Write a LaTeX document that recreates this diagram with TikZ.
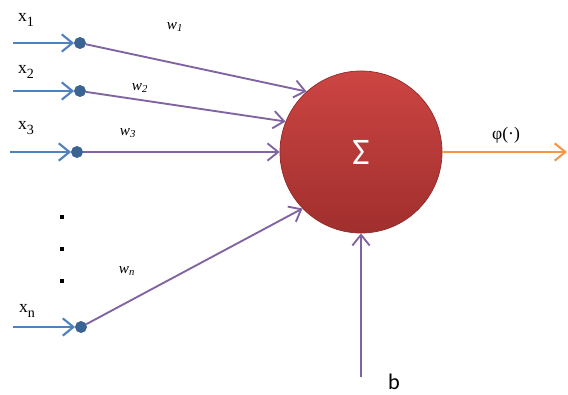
\documentclass[tikz,border=0pt]{standalone}
\usepackage{fontspec}
\setmainfont{Liberation Serif}
\setsansfont{Carlito}
\usepackage{tikz}
\usetikzlibrary{arrows.meta}
\definecolor{inblue}{HTML}{4F81BD}
\definecolor{dotblue}{HTML}{3A6496}
\definecolor{wpurple}{HTML}{8064A2}
\definecolor{outorange}{HTML}{F79646}
\definecolor{sumtop}{HTML}{CC4543}
\definecolor{sumbot}{HTML}{A02F2D}
\newcommand{\lowsub}[1]{\raisebox{-0.55ex}{\fontsize{12}{12}\selectfont #1}}

\begin{document}
\begin{tikzpicture}[x=0.03cm,y=-0.03cm,
  barb/.style={-{Straight Barb[length=0.32cm,width=0.52cm]}},
  inarrow/.style={barb,inblue,line width=1.8pt},
  weight/.style={barb,wpurple,line width=1.6pt},
  inpt/.style={circle,fill=dotblue,draw=inblue!70!black,inner sep=0pt,minimum size=0.34cm},
  xlab/.style={font=\fontsize{15}{16}\selectfont},
  wlab/.style={font=\fontsize{13}{14}\selectfont\itshape}]
\useasboundingbox (0,0) rectangle (568,394);
% summing node
\node[circle,minimum size=4.86cm,inner sep=0pt,top color=sumtop,bottom color=sumbot,draw=sumbot!90!black,line width=0.6pt,
  text=white,font=\sffamily\fontsize{32}{32}\selectfont] (sum) at (361,152) {Σ};
% inputs
\node[inpt] (d1) at (80,43) {};
\node[inpt] (d2) at (80,91) {};
\node[inpt] (d3) at (77,152) {};
\node[inpt] (dn) at (81,327) {};
\coordinate (s1) at (13,43);
\coordinate (s2) at (13,91);
\coordinate (s3) at (10,152);
\coordinate (sn) at (13,327);
\draw[inarrow] (s1) -- (d1);
\draw[inarrow] (s2) -- (d2);
\draw[inarrow] (s3) -- (d3);
\draw[inarrow] (sn) -- (dn);
\node[xlab] (x1) at (26,20) {x\lowsub{1}};
\node[xlab] (x2) at (26,72) {x\lowsub{2}};
\node[xlab] (x3) at (26,128) {x\lowsub{3}};
\node[xlab] (xn) at (27,311) {x\lowsub{n}};
% dots
\foreach \y [count=\i] in {217,249,281}
  \node[fill=black,inner sep=0pt,minimum size=3.5pt] (dot\i) at (62,\y) {};
% weights
\draw[weight] (d1) -- (sum.132);
\draw[weight] (d2) -- (sum.158);
\draw[weight] (d3) -- (sum.180);
\draw[weight] (dn) -- (sum.224);
\node[wlab] (w1) at (175,27) {w\textsubscript{1}};
\node[wlab] (w2) at (140,88) {w\textsubscript{2}};
\node[wlab] (w3) at (128,133) {w\textsubscript{3}};
\node[wlab] (wn) at (127,271) {w\textsubscript{n}};
% bias
\coordinate (bin) at (361,377);
\draw[weight] (bin) -- (sum.south);
\node[font=\sffamily\fontsize{19}{19}\selectfont] (b) at (394,382) {b};
% output
\coordinate (out) at (567,152);
\draw[barb,outorange,line width=1.8pt] (sum.east) -- (out);
\node[font=\fontsize{15}{16}\selectfont] (phi) at (506,135) {φ(·)};
\end{tikzpicture}
\end{document}
